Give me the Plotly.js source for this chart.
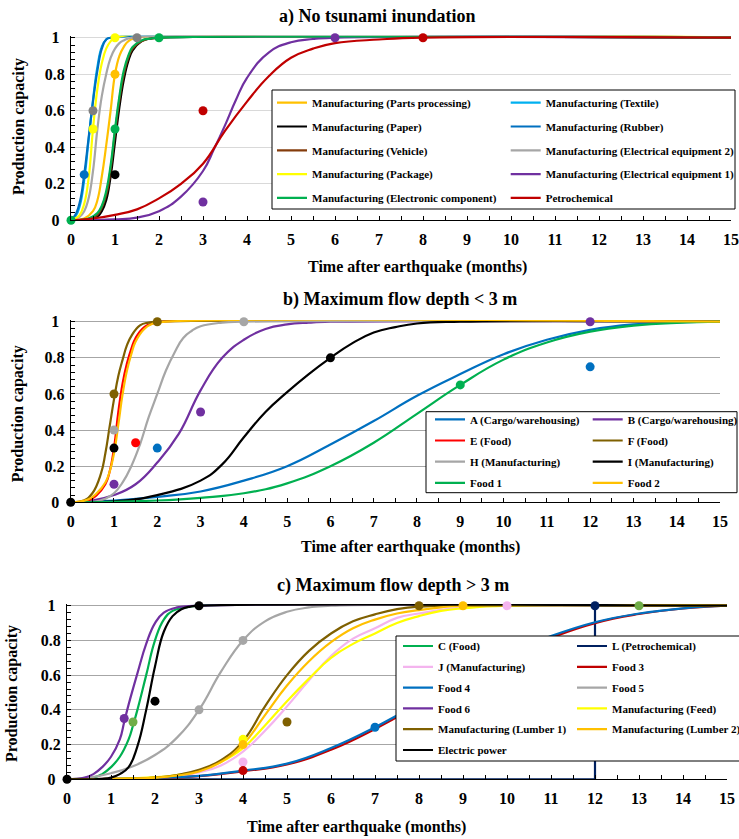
<!DOCTYPE html>
<html><head><meta charset="utf-8">
<script src="https://cdn.plot.ly/plotly-3.0.1.min.js"></script>
<style>html,body{margin:0;padding:0;background:#fff;}</style>
</head><body><div id="chart" style="width:739px;height:839px"></div>
<script>
// ---------------- data ----------------
const Y_TICKVALS = [0, 0.2, 0.4, 0.6, 0.8, 1];
const Y_TICKTEXT = ['0\u00A0\u200A', '0.2', '0.4', '0.6', '0.8', '1\u00A0\u200A'];

// a) No tsunami inundation  (curves)
const aPartsX = [0,0.3,0.5,0.6,0.7,0.8,0.9,1.0,1.1,1.2,1.3,1.5,15];
const aPartsY = [0,0.01,0.05,0.11,0.24,0.41,0.6,0.8,0.9,0.95,0.98,1,1];
const aTextileX = [0,0.1,0.2,0.3,0.4,0.5,0.6,0.7,0.8,0.9,15];
const aTextileY = [0,0.02,0.08,0.22,0.44,0.66,0.84,0.95,0.99,1,1];
const aPaperX = [0,0.4,0.6,0.7,0.8,0.9,1.0,1.1,1.2,1.3,1.4,1.6,1.8,2,15];
const aPaperY = [0,0.005,0.02,0.05,0.11,0.24,0.43,0.62,0.77,0.87,0.93,0.98,0.995,1,1];
const aRubberX = [0,0.1,0.2,0.3,0.4,0.5,0.6,0.7,0.8,0.9,15];
const aRubberY = [0,0.03,0.1,0.25,0.45,0.65,0.82,0.94,0.99,1,1];
const aVehicleX = [0,0.4,0.6,0.8,0.9,1.0,1.1,1.2,1.3,1.4,1.6,2,15];
const aVehicleY = [0,0.008,0.03,0.14,0.28,0.48,0.66,0.8,0.89,0.94,0.98,1,1];
const aElec2X = [0,0.2,0.3,0.4,0.5,0.6,0.7,0.8,0.9,1.0,1.1,1.2,1.4,15];
const aElec2Y = [0,0.02,0.05,0.12,0.27,0.5,0.68,0.8,0.89,0.94,0.97,0.985,1,1];
const aPackageX = [0,0.1,0.2,0.3,0.4,0.5,0.6,0.7,0.8,0.9,1,15];
const aPackageY = [0,0.01,0.03,0.09,0.23,0.5,0.72,0.86,0.94,0.98,1,1];
const aElec1X = [0,1,1.5,2,2.5,3,3.25,3.5,3.75,4,4.5,5,5.5,6,15];
const aElec1Y = [0,0.005,0.015,0.05,0.13,0.27,0.39,0.52,0.66,0.78,0.92,0.975,0.993,1,1];
const aElectronicX = [0,0.4,0.6,0.7,0.8,0.9,1.0,1.1,1.2,1.3,1.4,1.6,1.8,2,15];
const aElectronicY = [0,0.01,0.04,0.08,0.16,0.3,0.5,0.68,0.82,0.9,0.95,0.985,0.995,1,1];
const aPetroX = [0,0.5,1,1.5,2,2.5,3,3.5,4,4.5,5,5.5,6,7,8,15];
const aPetroY = [0,0.01,0.03,0.06,0.12,0.2,0.31,0.49,0.65,0.79,0.89,0.94,0.97,0.99,1,1];
// a) observed points
const aPtsPartsX = [1],        aPtsPartsY = [0.8];
const aPtsRubberX = [0.3],     aPtsRubberY = [0.25];
const aPtsPaperX = [1],        aPtsPaperY = [0.25];
const aPtsElec2X = [0.5,1.5],  aPtsElec2Y = [0.6,1];
const aPtsPackageX = [0.5,1],  aPtsPackageY = [0.5,1];
const aPtsElec1X = [3,6],      aPtsElec1Y = [0.1,1];
const aPtsElectronicX = [0,1,2], aPtsElectronicY = [0,0.5,1];
const aPtsPetroX = [3,8],      aPtsPetroY = [0.6,1];

// b) Maximum flow depth < 3 m (curves)
const bAX = [0,1,2,3,4,5,6,7,8,9,10,11,12,13,14,15];
const bAY = [0,0.01,0.03,0.06,0.12,0.2,0.32,0.45,0.59,0.71,0.82,0.9,0.955,0.985,0.996,1];
const bBX = [0,0.5,1,1.5,2,2.5,3,3.5,4,4.5,5,5.5,6,15];
const bBY = [0,0.01,0.04,0.1,0.22,0.38,0.62,0.8,0.9,0.96,0.985,0.995,1,1];
const bEX = [0,0.4,0.6,0.8,0.9,1,1.1,1.2,1.3,1.4,1.5,1.7,1.9,2.1,15];
const bEY = [0,0.01,0.04,0.1,0.17,0.3,0.5,0.66,0.77,0.85,0.91,0.97,0.99,1,1];
const bFX = [0,0.3,0.5,0.7,0.8,0.9,1,1.1,1.2,1.3,1.4,1.6,1.8,2,15];
const bFY = [0,0.01,0.05,0.16,0.27,0.42,0.57,0.7,0.79,0.87,0.92,0.98,0.995,1,1];
const bHX = [0,0.6,0.8,1,1.2,1.4,1.6,1.8,2,2.2,2.4,2.6,2.8,3,3.5,4,15];
const bHY = [0,0.005,0.02,0.05,0.11,0.2,0.32,0.47,0.6,0.73,0.83,0.91,0.95,0.975,0.995,1,1];
const bIX = [0,1,2,3,3.5,4,4.5,5,5.5,6,6.5,7,7.5,8,9,15];
const bIY = [0,0.005,0.04,0.12,0.21,0.36,0.5,0.61,0.71,0.8,0.88,0.94,0.97,0.99,1,1];
const bFood1X = [0,1,2,3,4,5,6,7,8,9,10,11,12,13,14,15];
const bFood1Y = [0,0.003,0.01,0.025,0.05,0.105,0.2,0.33,0.49,0.65,0.79,0.885,0.945,0.978,0.994,1];
const bFood2X = [0,0.4,0.6,0.8,0.9,1,1.1,1.2,1.3,1.4,1.5,1.7,1.9,2.2,15];
const bFood2Y = [0,0.015,0.05,0.11,0.17,0.27,0.43,0.6,0.73,0.82,0.89,0.96,0.99,1,1];
// b) observed points
const bPtsAX = [2,12],    bPtsAY = [0.3,0.75];
const bPtsBX = [1,3,12],  bPtsBY = [0.1,0.5,1];
const bPtsEX = [1.5],     bPtsEY = [0.33];
const bPtsFX = [1,2],     bPtsFY = [0.6,1];
const bPtsHX = [1,4],     bPtsHY = [0.4,1];
const bPtsIX = [0,1,6],   bPtsIY = [0,0.3,0.8];
const bPtsFood1X = [9],   bPtsFood1Y = [0.65];

// c) Maximum flow depth > 3 m (curves)
const cCX = [0,0.6,0.8,1,1.2,1.4,1.5,1.6,1.8,2,2.2,2.4,2.7,3,15];
const cCY = [0,0.01,0.03,0.07,0.13,0.23,0.31,0.4,0.6,0.8,0.92,0.97,0.99,1,1];
const cLX = [0,12,12,15];
const cLY = [0,0,1,1];
const cJX = [0,1,2,2.5,3,3.5,4,4.5,5,5.5,6,6.5,7,7.5,8,9,10,15];
const cJY = [0,0.002,0.01,0.02,0.04,0.08,0.16,0.28,0.42,0.57,0.71,0.81,0.87,0.93,0.955,0.99,1,1];
const cFood3X = [0,1,2,3,4,5,6,7,8,9,10,11,12,13,14,15];
const cFood3Y = [0,0.002,0.007,0.018,0.046,0.085,0.17,0.29,0.43,0.58,0.71,0.815,0.9,0.952,0.984,1];
const cFood4X = [0,1,2,3,4,5,6,7,8,9,10,11,12,13,14,15];
const cFood4Y = [0,0.002,0.008,0.02,0.05,0.09,0.18,0.3,0.44,0.59,0.72,0.825,0.905,0.955,0.985,1];
const cFood5X = [0,0.5,1,1.5,2,2.5,3,3.5,4,4.5,5,5.5,6,15];
const cFood5Y = [0,0.01,0.035,0.075,0.14,0.24,0.4,0.62,0.8,0.91,0.965,0.99,1,1];
const cFood6X = [0,0.4,0.6,0.8,1,1.2,1.3,1.4,1.6,1.8,2,2.2,2.5,3,15];
const cFood6Y = [0,0.01,0.03,0.07,0.13,0.23,0.33,0.43,0.61,0.78,0.9,0.96,0.99,1,1];
const cFeedX = [0,1,2,2.5,3,3.5,4,4.5,5,5.5,6,6.5,7,7.5,8,8.5,9,10,15];
const cFeedY = [0,0.002,0.012,0.025,0.05,0.1,0.18,0.31,0.45,0.58,0.7,0.78,0.84,0.9,0.94,0.97,0.985,1,1];
const cLumber1X = [0,1,2,2.5,3,3.5,4,4.5,5,5.5,6,6.5,7,7.5,8,9,15];
const cLumber1Y = [0,0.002,0.01,0.025,0.055,0.11,0.22,0.42,0.6,0.74,0.84,0.91,0.95,0.98,0.995,1,1];
const cLumber2X = [0,1,2,2.5,3,3.5,4,4.5,5,5.5,6,6.5,7,7.5,8,8.5,9,15];
const cLumber2Y = [0,0.002,0.01,0.022,0.045,0.1,0.2,0.37,0.54,0.68,0.79,0.87,0.92,0.955,0.975,0.99,1,1];
const cElecX = [0,0.8,1,1.2,1.4,1.6,1.8,2,2.2,2.4,2.6,2.8,3,15];
const cElecY = [0,0.003,0.01,0.03,0.07,0.19,0.4,0.65,0.85,0.94,0.98,0.995,1,1];
// c) observed points
const cPtsCX = [1.5,13],      cPtsCY = [0.33,1];
const cPtsLX = [12],          cPtsLY = [1];
const cPtsJX = [4,10],        cPtsJY = [0.1,1];
const cPtsFood3X = [4],       cPtsFood3Y = [0.05];
const cPtsFood4X = [7],       cPtsFood4Y = [0.3];
const cPtsFood5X = [3,4],     cPtsFood5Y = [0.4,0.8];
const cPtsFood6X = [1.3],     cPtsFood6Y = [0.35];
const cPtsFeedX = [4],        cPtsFeedY = [0.23];
const cPtsLumber1X = [5,8],   cPtsLumber1Y = [0.33,1];
const cPtsLumber2X = [4,9],   cPtsLumber2Y = [0.2,1];
const cPtsElecX = [0,2,3],    cPtsElecY = [0,0.45,1];

// ---------------- helpers ----------------
const W = 739, H = 839;
const SERIF = 'Liberation Serif';
const toX = v => v / W;
const toY = v => 1 - v / H;

function curve(x, y, name, color, ax, legend, shape) {
  return {type:'scatter', mode:'lines', x:x, y:y, name:name,
    xaxis:'x'+ax, yaxis:'y'+ax, legend:legend, legendgroup:name+'_'+ax,
    line:{color:color, width:2.2, shape:shape||'spline', smoothing:1.3},
    hoverinfo:'skip'};
}
function pts(x, y, color, ax) {
  return {type:'scatter', mode:'markers', x:x, y:y, xaxis:'x'+ax, yaxis:'y'+ax,
    showlegend:false, cliponaxis:false, marker:{color:color, size:9}, hoverinfo:'skip'};
}

const traces = [
  curve(aPartsX, aPartsY, 'Manufacturing (Parts processing)', '#FFC000', '', 'legend'),
  curve(aTextileX, aTextileY, 'Manufacturing (Textile)', '#00B0F0', '', 'legend2'),
  curve(aPaperX, aPaperY, 'Manufacturing (Paper)', '#000000', '', 'legend'),
  curve(aRubberX, aRubberY, 'Manufacturing (Rubber)', '#0070C0', '', 'legend2'),
  curve(aVehicleX, aVehicleY, 'Manufacturing (Vehicle)', '#843C0C', '', 'legend'),
  curve(aElec2X, aElec2Y, 'Manufacturing (Electrical equipment 2)', '#A6A6A6', '', 'legend2'),
  curve(aPackageX, aPackageY, 'Manufacturing (Package)', '#FFFF00', '', 'legend'),
  curve(aElec1X, aElec1Y, 'Manufacturing (Electrical equipment 1)', '#7030A0', '', 'legend2'),
  curve(aElectronicX, aElectronicY, 'Manufacturing (Electronic component)', '#00B050', '', 'legend'),
  curve(aPetroX, aPetroY, 'Petrochemical', '#C00000', '', 'legend2'),
  pts(aPtsPartsX, aPtsPartsY, '#FFC000', ''),
  pts(aPtsRubberX, aPtsRubberY, '#0070C0', ''),
  pts(aPtsPaperX, aPtsPaperY, '#000000', ''),
  pts(aPtsElec2X, aPtsElec2Y, '#808080', ''),
  pts(aPtsPackageX, aPtsPackageY, '#FFFF00', ''),
  pts(aPtsElec1X, aPtsElec1Y, '#7030A0', ''),
  pts(aPtsElectronicX, aPtsElectronicY, '#00B050', ''),
  pts(aPtsPetroX, aPtsPetroY, '#C00000', ''),
  curve(bAX, bAY, 'A (Cargo/warehousing)', '#0070C0', '2', 'legend3'),
  curve(bBX, bBY, 'B (Cargo/warehousing)', '#7030A0', '2', 'legend4'),
  curve(bEX, bEY, 'E (Food)', '#FF0000', '2', 'legend3'),
  curve(bFX, bFY, 'F (Food)', '#7F6000', '2', 'legend4'),
  curve(bHX, bHY, 'H (Manufacturing)', '#A6A6A6', '2', 'legend3'),
  curve(bIX, bIY, 'I (Manufacturing)', '#000000', '2', 'legend4'),
  curve(bFood1X, bFood1Y, 'Food 1', '#00B050', '2', 'legend3'),
  curve(bFood2X, bFood2Y, 'Food 2', '#FFC000', '2', 'legend4'),
  pts(bPtsAX, bPtsAY, '#0070C0', '2'),
  pts(bPtsBX, bPtsBY, '#7030A0', '2'),
  pts(bPtsEX, bPtsEY, '#FF0000', '2'),
  pts(bPtsFX, bPtsFY, '#7F6000', '2'),
  pts(bPtsHX, bPtsHY, '#A6A6A6', '2'),
  pts(bPtsIX, bPtsIY, '#000000', '2'),
  pts(bPtsFood1X, bPtsFood1Y, '#00B050', '2'),
  curve(cCX, cCY, 'C (Food)', '#00B050', '3', 'legend5'),
  curve(cLX, cLY, 'L (Petrochemical)', '#002060', '3', 'legend6', 'linear'),
  curve(cJX, cJY, 'J (Manufacturing)', '#F4B4EE', '3', 'legend5'),
  curve(cFood3X, cFood3Y, 'Food 3', '#C00000', '3', 'legend6'),
  curve(cFood4X, cFood4Y, 'Food 4', '#0070C0', '3', 'legend5'),
  curve(cFood5X, cFood5Y, 'Food 5', '#A6A6A6', '3', 'legend6'),
  curve(cFood6X, cFood6Y, 'Food 6', '#7030A0', '3', 'legend5'),
  curve(cFeedX, cFeedY, 'Manufacturing (Feed)', '#FFFF00', '3', 'legend6'),
  curve(cLumber1X, cLumber1Y, 'Manufacturing (Lumber 1)', '#7F6000', '3', 'legend5'),
  curve(cLumber2X, cLumber2Y, 'Manufacturing (Lumber 2)', '#FFC000', '3', 'legend6'),
  curve(cElecX, cElecY, 'Electric power', '#000000', '3', 'legend5'),
  pts(cPtsCX, cPtsCY, '#70AD47', '3'),
  pts(cPtsLX, cPtsLY, '#002060', '3'),
  pts(cPtsJX, cPtsJY, '#F4B4EE', '3'),
  pts(cPtsFood3X, cPtsFood3Y, '#C00000', '3'),
  pts(cPtsFood4X, cPtsFood4Y, '#0070C0', '3'),
  pts(cPtsFood5X, cPtsFood5Y, '#A6A6A6', '3'),
  pts(cPtsFood6X, cPtsFood6Y, '#7030A0', '3'),
  pts(cPtsFeedX, cPtsFeedY, '#FFFF00', '3'),
  pts(cPtsLumber1X, cPtsLumber1Y, '#7F6000', '3'),
  pts(cPtsLumber2X, cPtsLumber2Y, '#FFC000', '3'),
  pts(cPtsElecX, cPtsElecY, '#000000', '3')
];

function tf(size) { return {family:SERIF, size:size, weight:'bold', color:'#000'}; }
function xAxis(x0, x1, anchor) {
  return {domain:[toX(x0), toX(x1)], anchor:anchor, range:[0,15], tickmode:'linear', tick0:0, dtick:1,
    ticks:'inside', ticklen:4, tickcolor:'#000', showline:true, linecolor:'#000', linewidth:1,
    showgrid:false, zeroline:false, tickfont:tf(16), ticklabelstandoff:4,
    minor:{tickmode:'linear', tick0:0, dtick:0.5, ticks:'inside', ticklen:4, tickcolor:'#000', showgrid:false},
    fixedrange:true};
}
function yAxis(yTop1, yBot0, anchor, grid) {
  const top = yTop1 - 0.01 * (yBot0 - yTop1);
  return {domain:[toY(yBot0), toY(top)], anchor:anchor, range:[0,1.01], tickmode:'array',
    tickvals:Y_TICKVALS, ticktext:Y_TICKTEXT, ticks:'inside', ticklen:4, tickcolor:'#000',
    showline:true, linecolor:'#000', linewidth:1, showgrid:true, gridcolor:grid, gridwidth:1,
    zeroline:false, tickfont:tf(16), ticklabelstandoff:2,
    minor:{tickmode:'linear', tick0:0, dtick:0.04, ticks:'inside', ticklen:4, tickcolor:'#000', showgrid:false},
    fixedrange:true};
}
function leg(xLeft, yc1, gap) {
  return {x:toX(xLeft), y:toY(yc1 - 14.5), xanchor:'left', yanchor:'top', orientation:'v',
    traceorder:'grouped', tracegroupgap:gap, bgcolor:'rgba(0,0,0,0)', borderwidth:0,
    font:tf(11)};
}
function box(x0, y0, x1, y1) {
  return {type:'rect', xref:'paper', yref:'paper', x0:toX(x0), x1:toX(x1), y0:toY(y1), y1:toY(y0),
    fillcolor:'#FFFFFF', line:{color:'#000', width:1}, layer:'above'};
}
function ann(text, x, y, size, angle) {
  return {text:text, x:toX(x), y:toY(y), xref:'paper', yref:'paper', xanchor:'center', yanchor:'middle',
    showarrow:false, textangle:angle||0, font:tf(size)};
}

const layout = {
  width:W, height:H, margin:{l:0, r:0, t:0, b:0, autoexpand:false},
  paper_bgcolor:'#fff', plot_bgcolor:'rgba(0,0,0,0)', showlegend:true,
  xaxis: xAxis(71, 731, 'y'),
  yaxis: yAxis(37.7, 220.3, 'x', '#D9D9D9'),
  xaxis2: xAxis(70.7, 720, 'y2'),
  yaxis2: yAxis(321.7, 502.3, 'x2', '#A6A6A6'),
  xaxis3: xAxis(67, 727, 'y3'),
  yaxis3: yAxis(605.7, 779.3, 'x3', '#A6A6A6'),
  legend: leg(272, 102.7, 4.8),
  legend2: leg(505.7, 102.7, 4.8),
  legend3: leg(430, 419.3, 2.2),
  legend4: leg(587.7, 419.3, 2.2),
  legend5: leg(398, 646, 1.8),
  legend6: leg(572, 646, 1.8),
  shapes: [box(272, 90, 735, 209), box(426, 411.7, 737, 492.7), box(396, 636, 760, 761)],
  annotations: [
    ann('a) No tsunami inundation', 377, 16.7, 18),
    ann('b) Maximum flow depth &lt; 3 m', 400, 300, 18),
    ann('c) Maximum flow depth &gt; 3 m', 393, 585, 18),
    ann('Time after earthquake (months)', 418, 266.7, 16),
    ann('Time after earthquake (months)', 410, 546.7, 16),
    ann('Time after earthquake (months)', 356, 826.7, 16),
    ann('Production capacity', 18.3, 126.7, 16, -90),
    ann('Production capacity', 18.3, 414, 16, -90),
    ann('Production capacity', 12, 694, 16, -90)
  ]
};

Plotly.newPlot('chart', traces, layout, {displayModeBar:false});
</script>
</body></html>
